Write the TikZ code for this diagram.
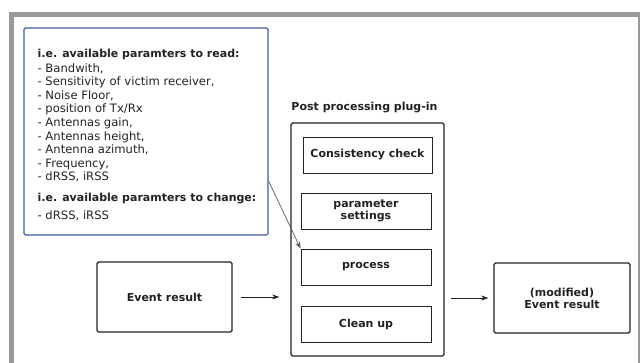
\documentclass[tikz,border=0pt]{standalone}
\usepackage{fontspec}
\setmainfont{DejaVu Sans}
\usetikzlibrary{arrows.meta}
\usetikzlibrary{calc}

\definecolor{framegray}{RGB}{153,153,153}
\definecolor{infoblue}{RGB}{62,92,165}
\definecolor{inkgray}{RGB}{34,34,34}

\begin{document}
\begin{tikzpicture}[x=1pt,y=-1pt,>={Stealth[length=7pt,width=5pt]},
  outerbox/.style={draw=inkgray,line width=1.4pt,rounded corners=1.5pt,inner sep=0pt,
    align=center,text=inkgray,font=\fontsize{11}{12}\selectfont\bfseries},
  stagebox/.style={draw=inkgray,line width=0.8pt,minimum width=130pt,minimum height=36pt,
    inner sep=0pt,align=center,text=inkgray,font=\fontsize{11}{12}\selectfont\bfseries},
  flow/.style={->,draw=inkgray,line width=0.8pt}]
  \useasboundingbox (0,0) rectangle (640,363);
  % grey frame
  \fill[framegray] (9,12) rectangle (640,17);
  \fill[framegray] (9,12) rectangle (14,363);
  \fill[framegray] (638,12) rectangle (639.5,363);

  % parameter box
  \node[draw=infoblue,line width=1.2pt,rounded corners=1.5pt,minimum width=244pt,minimum height=207pt] (info) at (146,131.5) {};
  \node[anchor=north west,inner sep=0pt,align=left,text=inkgray,font=\fontsize{11.6}{13.6}\selectfont] (params) at ([xshift=14pt,yshift=-22pt]info.north west)
    {{\fontsize{11}{13.6}\selectfont\bfseries i.e. available paramters to read:}\\[0.5pt]
     - Bandwith,\\
     - Sensitivity of victim receiver,\\
     - Noise Floor,\\
     - position of Tx/Rx\\
     - Antennas gain,\\
     - Antennas height,\\
     - Antenna azimuth,\\
     - Frequency,\\
     - dRSS, iRSS\\[7pt]
     {\fontsize{11}{13.6}\selectfont\bfseries i.e. available paramters to change:}\\[4pt]
     - dRSS, iRSS};

  % plug-in
  \node[outerbox,minimum width=153pt,minimum height=233pt] (plugin) at (367.5,239.5) {};
  \node[text=inkgray,font=\fontsize{11}{12}\selectfont\bfseries] (plugtitle) at (364.5,108) {Post processing plug-in};
  \node[stagebox,minimum width=129pt] (check) at (367.5,155) {Consistency check};
  \node[stagebox] (param) at (366,211) {parameter\\settings};
  \node[stagebox] (proc) at (366,267) {process};
  \node[stagebox] (clean) at (366,324) {Clean up};

  % in and out
  \node[outerbox,minimum width=135pt,minimum height=70pt] (event) at (164.5,297) {Event result};
  \node[outerbox,minimum width=136pt,minimum height=70pt] (modres) at (562,298) {(modified)\\Event result};

  \draw[flow,shorten <=8pt,shorten >=11pt] (event.east) -- (event.east -| plugin.west);
  \draw[flow,shorten <=6pt,shorten >=5pt] (plugin.east |- modres.west) -- (modres.west);
  \draw[->,draw=black!65,line width=0.7pt] (info.-22.5) -- (proc.north west);
\end{tikzpicture}
\end{document}
